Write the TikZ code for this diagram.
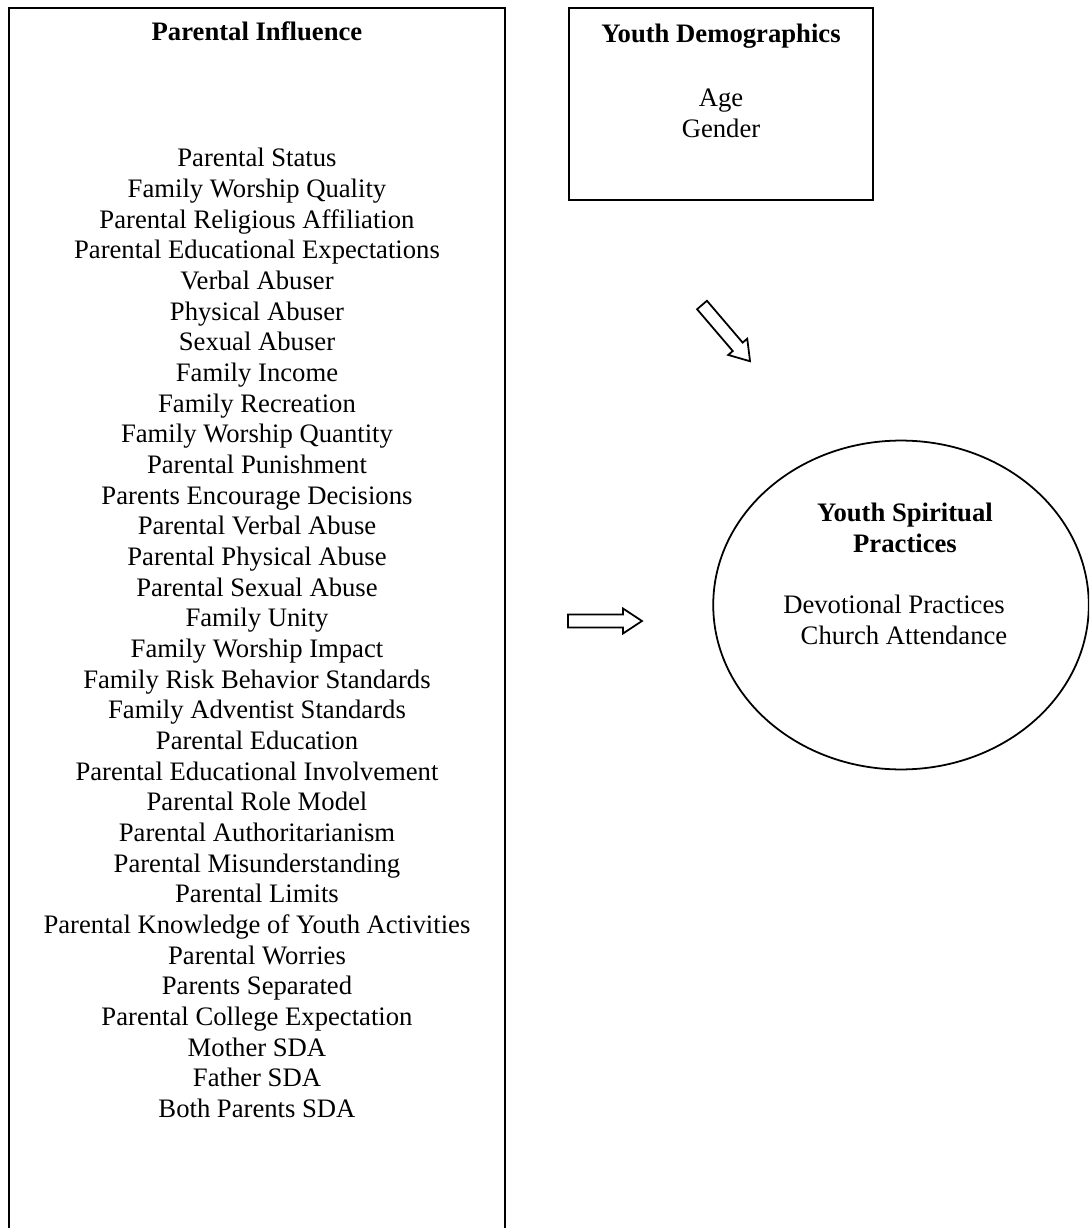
\documentclass[tikz,border=0pt]{standalone}
\usepackage{fontspec}
\setmainfont{Liberation Serif}
\usepackage{tikz}
\usetikzlibrary{shapes.geometric}

\tikzset{
  box/.style={draw, line width=0.9pt},
  itemtext/.style={align=center, font=\fontsize{12}{13.8}\selectfont},
  heading/.style={align=center, font=\fontsize{12}{13.8}\selectfont\bfseries},
  fatarrow/.pic={
    \draw[line width=0.8pt] (0,-6.5) -- (55,-6.5) -- (55,-12.5) -- (74,0)
      -- (55,12.5) -- (55,6.5) -- (0,6.5) -- cycle;
  }
}

\begin{document}
\begin{tikzpicture}[x=0.45pt, y=-0.45pt]
      \useasboundingbox (0,0) rectangle (1089,1228);
      \clip (0,0) rectangle (1089,1228);

      \draw[box] (9,8) rectangle (505,1260);
      \path
      (257,31) node[heading](par){Parental Influence}
      (257,633) node[itemtext](paritems){Parental Status\\ Family Worship Quality\\
        Parental Religious Affiliation\\ Parental Educational Expectations\\
        Verbal Abuser\\ Physical Abuser\\ Sexual Abuser\\ Family Income\\
        Family Recreation\\ Family Worship Quantity\\ Parental Punishment\\
        Parents Encourage Decisions\\ Parental Verbal Abuse\\
        Parental Physical Abuse\\ Parental Sexual Abuse\\ Family Unity\\
        Family Worship Impact\\ Family Risk Behavior Standards\\
        Family Adventist Standards\\ Parental Education\\
        Parental Educational Involvement\\ Parental Role Model\\
        Parental Authoritarianism\\ Parental Misunderstanding\\
        Parental Limits\\ Parental Knowledge of Youth Activities\\
        Parental Worries\\ Parents Separated\\ Parental College Expectation\\
        Mother SDA\\ Father SDA\\ Both Parents SDA};

      \draw[box] (569,8) rectangle (873,200);
      \path
      (721,36) node[heading](dem){Youth Demographics}
      (721,113) node[itemtext](demitems){Age\\ Gender};

      \path
      (901,605) node[ellipse, draw, line width=0.8pt, minimum width=169pt,
        minimum height=148pt](spi){}
      (905,528) node[heading](spihead){Youth Spiritual\\ Practices}
      (894,620) node[itemtext](spiitems){Devotional Practices\\
        \hspace*{9pt}Church Attendance};

      \pic (parto) at (568,621) {fatarrow};
      \pic (demto) [rotate=-49.5] at (702,305) {fatarrow};
    \end{tikzpicture}
\end{document}
